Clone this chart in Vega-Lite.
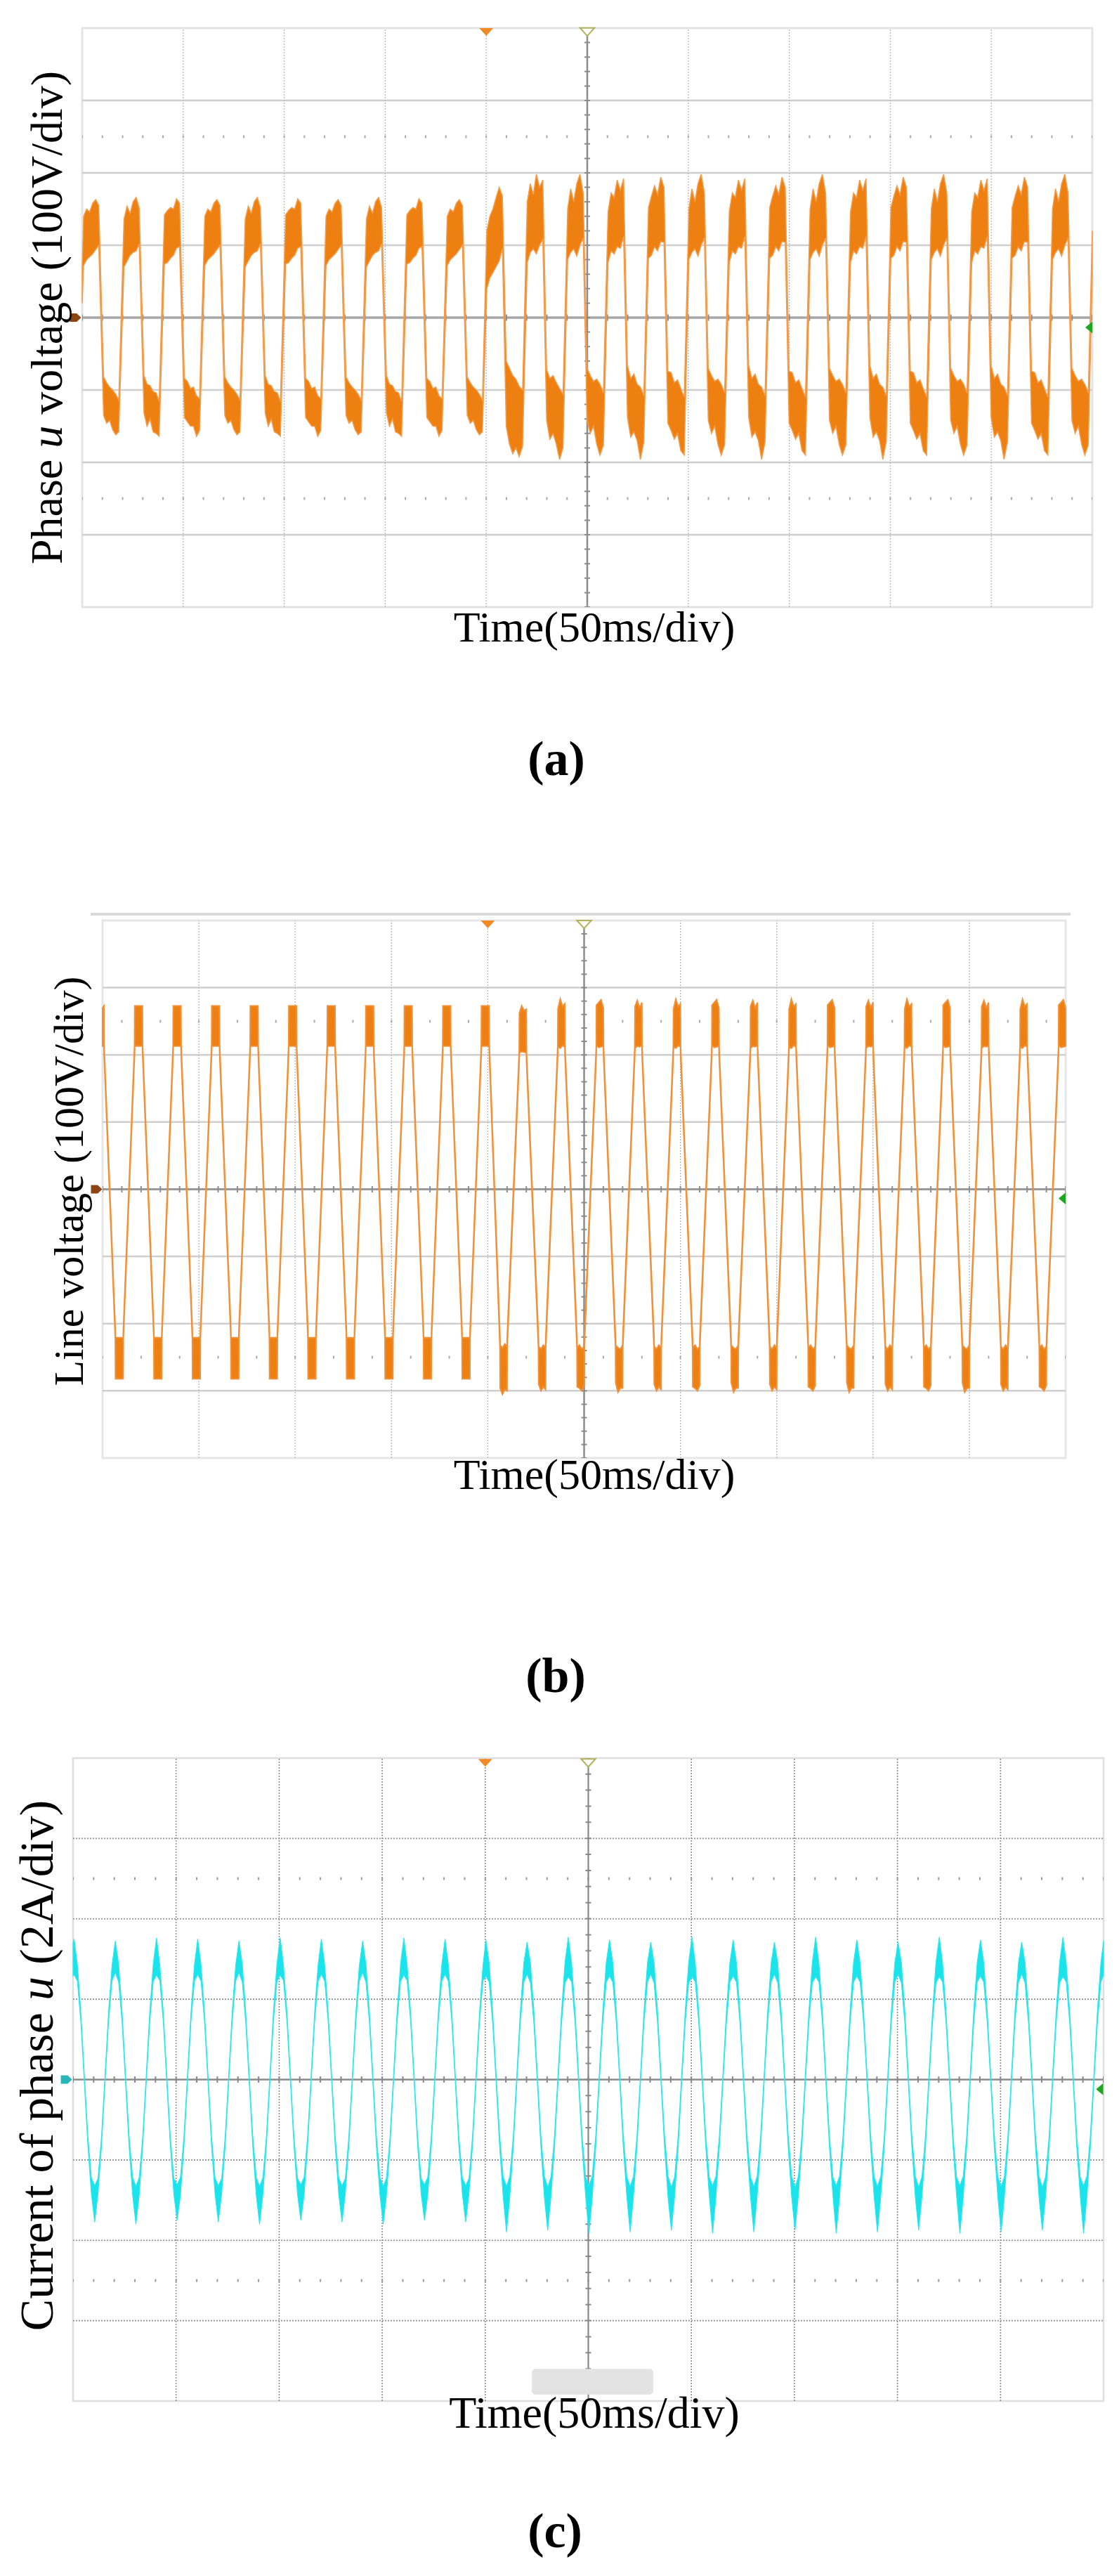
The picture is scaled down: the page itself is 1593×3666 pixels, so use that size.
{
"$schema": "https://vega.github.io/schema/vega-lite/v6.json",
"padding": 0,
"background": "white",
"spacing": 0,
"config": {"view": {"stroke": null}},
"datasets": {
"wa": [
{"t":0,"v":20,"v2":70},
{"t":0.7,"v":72,"v2":140},{"t":2.2,"v":80,"v2":150},{"t":3.7,"v":84,"v2":146},{"t":5.2,"v":88,"v2":158},{"t":6.7,"v":94,"v2":163},{"t":8.2,"v":100,"v2":155},{"t":10.6,"v":-135,"v2":-82},{"t":12.1,"v":-146,"v2":-90},{"t":13.6,"v":-142,"v2":-96},{"t":15.1,"v":-155,"v2":-100},{"t":16.6,"v":-162,"v2":-106},{"t":18.1,"v":-158,"v2":-114},
{"t":20.7,"v":70,"v2":136},{"t":22.2,"v":78,"v2":154},{"t":23.7,"v":86,"v2":144},{"t":25.2,"v":90,"v2":160},{"t":26.7,"v":92,"v2":166},{"t":28.2,"v":102,"v2":152},{"t":30.6,"v":-132,"v2":-80},{"t":32.1,"v":-150,"v2":-92},{"t":33.6,"v":-140,"v2":-94},{"t":35.1,"v":-158,"v2":-102},{"t":36.6,"v":-160,"v2":-104},{"t":38.1,"v":-164,"v2":-116},
{"t":40.7,"v":74,"v2":142},{"t":42.2,"v":76,"v2":148},{"t":43.7,"v":82,"v2":152},{"t":45.2,"v":86,"v2":150},{"t":46.7,"v":96,"v2":164},{"t":48.2,"v":98,"v2":158},{"t":50.6,"v":-138,"v2":-84},{"t":52.1,"v":-144,"v2":-88},{"t":53.6,"v":-150,"v2":-98},{"t":55.1,"v":-150,"v2":-96},{"t":56.6,"v":-164,"v2":-108},{"t":58.1,"v":-156,"v2":-112},
{"t":60.7,"v":72,"v2":140},{"t":62.2,"v":80,"v2":150},{"t":63.7,"v":84,"v2":146},{"t":65.2,"v":88,"v2":158},{"t":66.7,"v":94,"v2":163},{"t":68.2,"v":100,"v2":155},{"t":70.6,"v":-135,"v2":-82},{"t":72.1,"v":-146,"v2":-90},{"t":73.6,"v":-142,"v2":-96},{"t":75.1,"v":-155,"v2":-100},{"t":76.6,"v":-162,"v2":-106},{"t":78.1,"v":-158,"v2":-114},
{"t":80.7,"v":70,"v2":136},{"t":82.2,"v":78,"v2":154},{"t":83.7,"v":86,"v2":144},{"t":85.2,"v":90,"v2":160},{"t":86.7,"v":92,"v2":166},{"t":88.2,"v":102,"v2":152},{"t":90.6,"v":-132,"v2":-80},{"t":92.1,"v":-150,"v2":-92},{"t":93.6,"v":-140,"v2":-94},{"t":95.1,"v":-158,"v2":-102},{"t":96.6,"v":-160,"v2":-104},{"t":98.1,"v":-164,"v2":-116},
{"t":100.7,"v":74,"v2":142},{"t":102.2,"v":76,"v2":148},{"t":103.7,"v":82,"v2":152},{"t":105.2,"v":86,"v2":150},{"t":106.7,"v":96,"v2":164},{"t":108.2,"v":98,"v2":158},{"t":110.6,"v":-138,"v2":-84},{"t":112.1,"v":-144,"v2":-88},{"t":113.6,"v":-150,"v2":-98},{"t":115.1,"v":-150,"v2":-96},{"t":116.6,"v":-164,"v2":-108},{"t":118.1,"v":-156,"v2":-112},
{"t":120.7,"v":72,"v2":140},{"t":122.2,"v":80,"v2":150},{"t":123.7,"v":84,"v2":146},{"t":125.2,"v":88,"v2":158},{"t":126.7,"v":94,"v2":163},{"t":128.2,"v":100,"v2":155},{"t":130.6,"v":-135,"v2":-82},{"t":132.1,"v":-146,"v2":-90},{"t":133.6,"v":-142,"v2":-96},{"t":135.1,"v":-155,"v2":-100},{"t":136.6,"v":-162,"v2":-106},{"t":138.1,"v":-158,"v2":-114},
{"t":140.7,"v":70,"v2":136},{"t":142.2,"v":78,"v2":154},{"t":143.7,"v":86,"v2":144},{"t":145.2,"v":90,"v2":160},{"t":146.7,"v":92,"v2":166},{"t":148.2,"v":102,"v2":152},{"t":150.6,"v":-132,"v2":-80},{"t":152.1,"v":-150,"v2":-92},{"t":153.6,"v":-140,"v2":-94},{"t":155.1,"v":-158,"v2":-102},{"t":156.6,"v":-160,"v2":-104},{"t":158.1,"v":-164,"v2":-116},
{"t":160.7,"v":74,"v2":142},{"t":162.2,"v":76,"v2":148},{"t":163.7,"v":82,"v2":152},{"t":165.2,"v":86,"v2":150},{"t":166.7,"v":96,"v2":164},{"t":168.2,"v":98,"v2":158},{"t":170.6,"v":-138,"v2":-84},{"t":172.1,"v":-144,"v2":-88},{"t":173.6,"v":-150,"v2":-98},{"t":175.1,"v":-150,"v2":-96},{"t":176.6,"v":-164,"v2":-108},{"t":178.1,"v":-156,"v2":-112},
{"t":180.7,"v":72,"v2":140},{"t":182.2,"v":80,"v2":150},{"t":183.7,"v":84,"v2":146},{"t":185.2,"v":88,"v2":158},{"t":186.7,"v":94,"v2":163},{"t":188.2,"v":100,"v2":155},{"t":190.6,"v":-135,"v2":-82},{"t":192.1,"v":-146,"v2":-90},{"t":193.6,"v":-142,"v2":-96},{"t":195.1,"v":-155,"v2":-100},{"t":196.6,"v":-162,"v2":-106},{"t":198.1,"v":-158,"v2":-114},
{"t":200.3,"v":40,"v2":120},{"t":201.8,"v":55,"v2":140},{"t":203.3,"v":62,"v2":150},{"t":204.8,"v":70,"v2":165},{"t":206.4,"v":78,"v2":180},{"t":208,"v":95,"v2":168},{"t":209.9,"v":-150,"v2":-60},{"t":211.5,"v":-175,"v2":-70},{"t":213.1,"v":-188,"v2":-80},{"t":214.7,"v":-180,"v2":-85},{"t":216.3,"v":-192,"v2":-95},{"t":218,"v":-178,"v2":-100},
{"t":220.3,"v":76,"v2":160},{"t":221.8,"v":90,"v2":185},{"t":223.3,"v":95,"v2":170},{"t":224.8,"v":88,"v2":198},{"t":226.4,"v":100,"v2":180},{"t":228,"v":108,"v2":190},{"t":229.9,"v":-142,"v2":-72},{"t":231.5,"v":-168,"v2":-84},{"t":233.1,"v":-160,"v2":-80},{"t":234.7,"v":-175,"v2":-90},{"t":236.3,"v":-196,"v2":-98},{"t":238,"v":-180,"v2":-106},
{"t":240.3,"v":80,"v2":150},{"t":241.8,"v":90,"v2":178},{"t":243.3,"v":95,"v2":160},{"t":244.8,"v":85,"v2":185},{"t":246.4,"v":100,"v2":198},{"t":248,"v":110,"v2":172},{"t":249.9,"v":-142,"v2":-70},{"t":251.5,"v":-160,"v2":-80},{"t":253.1,"v":-150,"v2":-88},{"t":254.7,"v":-175,"v2":-85},{"t":256.3,"v":-190,"v2":-92},{"t":258,"v":-176,"v2":-104},
{"t":260.3,"v":76,"v2":146},{"t":261.8,"v":92,"v2":172},{"t":263.3,"v":88,"v2":166},{"t":264.8,"v":98,"v2":190},{"t":266.4,"v":96,"v2":176},{"t":268,"v":112,"v2":192},{"t":269.9,"v":-138,"v2":-66},{"t":271.5,"v":-165,"v2":-84},{"t":273.1,"v":-158,"v2":-78},{"t":274.7,"v":-170,"v2":-92},{"t":276.3,"v":-196,"v2":-96},{"t":278,"v":-172,"v2":-108},
{"t":280.3,"v":82,"v2":152},{"t":281.8,"v":86,"v2":168},{"t":283.3,"v":98,"v2":182},{"t":284.8,"v":92,"v2":170},{"t":286.4,"v":105,"v2":194},{"t":288,"v":104,"v2":180},{"t":289.9,"v":-146,"v2":-74},{"t":291.5,"v":-156,"v2":-76},{"t":293.1,"v":-168,"v2":-90},{"t":294.7,"v":-160,"v2":-86},{"t":296.3,"v":-184,"v2":-98},{"t":298,"v":-190,"v2":-110},
{"t":300.3,"v":80,"v2":150},{"t":301.8,"v":90,"v2":178},{"t":303.3,"v":95,"v2":160},{"t":304.8,"v":85,"v2":185},{"t":306.4,"v":100,"v2":198},{"t":308,"v":110,"v2":172},{"t":309.9,"v":-142,"v2":-70},{"t":311.5,"v":-160,"v2":-80},{"t":313.1,"v":-150,"v2":-88},{"t":314.7,"v":-175,"v2":-85},{"t":316.3,"v":-190,"v2":-92},{"t":318,"v":-176,"v2":-104},
{"t":320.3,"v":76,"v2":146},{"t":321.8,"v":92,"v2":172},{"t":323.3,"v":88,"v2":166},{"t":324.8,"v":98,"v2":190},{"t":326.4,"v":96,"v2":176},{"t":328,"v":112,"v2":192},{"t":329.9,"v":-138,"v2":-66},{"t":331.5,"v":-165,"v2":-84},{"t":333.1,"v":-158,"v2":-78},{"t":334.7,"v":-170,"v2":-92},{"t":336.3,"v":-196,"v2":-96},{"t":338,"v":-172,"v2":-108},
{"t":340.3,"v":82,"v2":152},{"t":341.8,"v":86,"v2":168},{"t":343.3,"v":98,"v2":182},{"t":344.8,"v":92,"v2":170},{"t":346.4,"v":105,"v2":194},{"t":348,"v":104,"v2":180},{"t":349.9,"v":-146,"v2":-74},{"t":351.5,"v":-156,"v2":-76},{"t":353.1,"v":-168,"v2":-90},{"t":354.7,"v":-160,"v2":-86},{"t":356.3,"v":-184,"v2":-98},{"t":358,"v":-190,"v2":-110},
{"t":360.3,"v":80,"v2":150},{"t":361.8,"v":90,"v2":178},{"t":363.3,"v":95,"v2":160},{"t":364.8,"v":85,"v2":185},{"t":366.4,"v":100,"v2":198},{"t":368,"v":110,"v2":172},{"t":369.9,"v":-142,"v2":-70},{"t":371.5,"v":-160,"v2":-80},{"t":373.1,"v":-150,"v2":-88},{"t":374.7,"v":-175,"v2":-85},{"t":376.3,"v":-190,"v2":-92},{"t":378,"v":-176,"v2":-104},
{"t":380.3,"v":76,"v2":146},{"t":381.8,"v":92,"v2":172},{"t":383.3,"v":88,"v2":166},{"t":384.8,"v":98,"v2":190},{"t":386.4,"v":96,"v2":176},{"t":388,"v":112,"v2":192},{"t":389.9,"v":-138,"v2":-66},{"t":391.5,"v":-165,"v2":-84},{"t":393.1,"v":-158,"v2":-78},{"t":394.7,"v":-170,"v2":-92},{"t":396.3,"v":-196,"v2":-96},{"t":398,"v":-172,"v2":-108},
{"t":400.3,"v":82,"v2":152},{"t":401.8,"v":86,"v2":168},{"t":403.3,"v":98,"v2":182},{"t":404.8,"v":92,"v2":170},{"t":406.4,"v":105,"v2":194},{"t":408,"v":104,"v2":180},{"t":409.9,"v":-146,"v2":-74},{"t":411.5,"v":-156,"v2":-76},{"t":413.1,"v":-168,"v2":-90},{"t":414.7,"v":-160,"v2":-86},{"t":416.3,"v":-184,"v2":-98},{"t":418,"v":-190,"v2":-110},
{"t":420.3,"v":80,"v2":150},{"t":421.8,"v":90,"v2":178},{"t":423.3,"v":95,"v2":160},{"t":424.8,"v":85,"v2":185},{"t":426.4,"v":100,"v2":198},{"t":428,"v":110,"v2":172},{"t":429.9,"v":-142,"v2":-70},{"t":431.5,"v":-160,"v2":-80},{"t":433.1,"v":-150,"v2":-88},{"t":434.7,"v":-175,"v2":-85},{"t":436.3,"v":-190,"v2":-92},{"t":438,"v":-176,"v2":-104},
{"t":440.3,"v":76,"v2":146},{"t":441.8,"v":92,"v2":172},{"t":443.3,"v":88,"v2":166},{"t":444.8,"v":98,"v2":190},{"t":446.4,"v":96,"v2":176},{"t":448,"v":112,"v2":192},{"t":449.9,"v":-138,"v2":-66},{"t":451.5,"v":-165,"v2":-84},{"t":453.1,"v":-158,"v2":-78},{"t":454.7,"v":-170,"v2":-92},{"t":456.3,"v":-196,"v2":-96},{"t":458,"v":-172,"v2":-108},
{"t":460.3,"v":82,"v2":152},{"t":461.8,"v":86,"v2":168},{"t":463.3,"v":98,"v2":182},{"t":464.8,"v":92,"v2":170},{"t":466.4,"v":105,"v2":194},{"t":468,"v":104,"v2":180},{"t":469.9,"v":-146,"v2":-74},{"t":471.5,"v":-156,"v2":-76},{"t":473.1,"v":-168,"v2":-90},{"t":474.7,"v":-160,"v2":-86},{"t":476.3,"v":-184,"v2":-98},{"t":478,"v":-190,"v2":-110},
{"t":480.3,"v":80,"v2":150},{"t":481.8,"v":90,"v2":178},{"t":483.3,"v":95,"v2":160},{"t":484.8,"v":85,"v2":185},{"t":486.4,"v":100,"v2":198},{"t":488,"v":110,"v2":172},{"t":489.9,"v":-142,"v2":-70},{"t":491.5,"v":-160,"v2":-80},{"t":493.1,"v":-150,"v2":-88},{"t":494.7,"v":-175,"v2":-85},{"t":496.3,"v":-190,"v2":-92},{"t":498,"v":-176,"v2":-104},
{"t":500,"v":60,"v2":120}
],
"wb": [
{"t":0,"v":213,"v2":270},
{"t":0.7,"v":213,"v2":273},{"t":0.8,"v":200,"v2":214},{"t":6.6,"v":-222,"v2":-208},{"t":6.7,"v":-282,"v2":-221},{"t":10.7,"v":-282,"v2":-221},{"t":10.8,"v":-222,"v2":-208},{"t":16.6,"v":200,"v2":214},{"t":16.7,"v":213,"v2":273},
{"t":20.7,"v":213,"v2":273},{"t":20.8,"v":200,"v2":214},{"t":26.6,"v":-222,"v2":-208},{"t":26.7,"v":-282,"v2":-221},{"t":30.7,"v":-282,"v2":-221},{"t":30.8,"v":-222,"v2":-208},{"t":36.6,"v":200,"v2":214},{"t":36.7,"v":213,"v2":273},
{"t":40.7,"v":213,"v2":273},{"t":40.8,"v":200,"v2":214},{"t":46.6,"v":-222,"v2":-208},{"t":46.7,"v":-282,"v2":-221},{"t":50.7,"v":-282,"v2":-221},{"t":50.8,"v":-222,"v2":-208},{"t":56.6,"v":200,"v2":214},{"t":56.7,"v":213,"v2":273},
{"t":60.7,"v":213,"v2":273},{"t":60.8,"v":200,"v2":214},{"t":66.6,"v":-222,"v2":-208},{"t":66.7,"v":-282,"v2":-221},{"t":70.7,"v":-282,"v2":-221},{"t":70.8,"v":-222,"v2":-208},{"t":76.6,"v":200,"v2":214},{"t":76.7,"v":213,"v2":273},
{"t":80.7,"v":213,"v2":273},{"t":80.8,"v":200,"v2":214},{"t":86.6,"v":-222,"v2":-208},{"t":86.7,"v":-282,"v2":-221},{"t":90.7,"v":-282,"v2":-221},{"t":90.8,"v":-222,"v2":-208},{"t":96.6,"v":200,"v2":214},{"t":96.7,"v":213,"v2":273},
{"t":100.7,"v":213,"v2":273},{"t":100.8,"v":200,"v2":214},{"t":106.6,"v":-222,"v2":-208},{"t":106.7,"v":-282,"v2":-221},{"t":110.7,"v":-282,"v2":-221},{"t":110.8,"v":-222,"v2":-208},{"t":116.6,"v":200,"v2":214},{"t":116.7,"v":213,"v2":273},
{"t":120.7,"v":213,"v2":273},{"t":120.8,"v":200,"v2":214},{"t":126.6,"v":-222,"v2":-208},{"t":126.7,"v":-282,"v2":-221},{"t":130.7,"v":-282,"v2":-221},{"t":130.8,"v":-222,"v2":-208},{"t":136.6,"v":200,"v2":214},{"t":136.7,"v":213,"v2":273},
{"t":140.7,"v":213,"v2":273},{"t":140.8,"v":200,"v2":214},{"t":146.6,"v":-222,"v2":-208},{"t":146.7,"v":-282,"v2":-221},{"t":150.7,"v":-282,"v2":-221},{"t":150.8,"v":-222,"v2":-208},{"t":156.6,"v":200,"v2":214},{"t":156.7,"v":213,"v2":273},
{"t":160.7,"v":213,"v2":273},{"t":160.8,"v":200,"v2":214},{"t":166.6,"v":-222,"v2":-208},{"t":166.7,"v":-282,"v2":-221},{"t":170.7,"v":-282,"v2":-221},{"t":170.8,"v":-222,"v2":-208},{"t":176.6,"v":200,"v2":214},{"t":176.7,"v":213,"v2":273},
{"t":180.7,"v":213,"v2":273},{"t":180.8,"v":200,"v2":214},{"t":186.6,"v":-222,"v2":-208},{"t":186.7,"v":-282,"v2":-221},{"t":190.7,"v":-282,"v2":-221},{"t":190.8,"v":-222,"v2":-208},{"t":196.6,"v":200,"v2":214},{"t":196.7,"v":213,"v2":273},
{"t":200.7,"v":213,"v2":273},{"t":200.8,"v":200,"v2":214},
{"t":206.3,"v":-234,"v2":-218},{"t":206.4,"v":-296,"v2":-232},{"t":207.6,"v":-305,"v2":-236},{"t":208.8,"v":-298,"v2":-230},{"t":210,"v":-300,"v2":-234},{"t":210.1,"v":-234,"v2":-218},{"t":216.3,"v":190,"v2":204},{"t":216.4,"v":203,"v2":262},{"t":217.6,"v":205,"v2":273},{"t":218.8,"v":204,"v2":266},{"t":220,"v":203,"v2":268},{"t":220.1,"v":190,"v2":204},
{"t":226.3,"v":-236,"v2":-220},{"t":226.4,"v":-290,"v2":-234},{"t":227.6,"v":-300,"v2":-238},{"t":228.8,"v":-294,"v2":-232},{"t":230,"v":-298,"v2":-236},{"t":230.1,"v":-236,"v2":-220},{"t":236.3,"v":198,"v2":212},{"t":236.4,"v":212,"v2":268},{"t":237.6,"v":210,"v2":283},{"t":238.8,"v":214,"v2":272},{"t":240,"v":212,"v2":276},{"t":240.1,"v":198,"v2":212},
{"t":246.3,"v":-236,"v2":-220},{"t":246.4,"v":-294,"v2":-236},{"t":247.6,"v":-296,"v2":-232},{"t":248.8,"v":-300,"v2":-238},{"t":250,"v":-292,"v2":-234},{"t":250.1,"v":-236,"v2":-220},{"t":256.3,"v":198,"v2":212},{"t":256.4,"v":214,"v2":274},{"t":257.6,"v":211,"v2":278},{"t":258.8,"v":212,"v2":282},{"t":260,"v":213,"v2":270},{"t":260.1,"v":198,"v2":212},
{"t":266.3,"v":-236,"v2":-220},{"t":266.4,"v":-288,"v2":-232},{"t":267.6,"v":-302,"v2":-236},{"t":268.8,"v":-296,"v2":-238},{"t":270,"v":-296,"v2":-232},{"t":270.1,"v":-236,"v2":-220},{"t":276.3,"v":198,"v2":212},{"t":276.4,"v":210,"v2":272},{"t":277.6,"v":213,"v2":281},{"t":278.8,"v":212,"v2":270},{"t":280,"v":214,"v2":278},{"t":280.1,"v":198,"v2":212},
{"t":286.3,"v":-236,"v2":-220},{"t":286.4,"v":-290,"v2":-234},{"t":287.6,"v":-300,"v2":-238},{"t":288.8,"v":-294,"v2":-232},{"t":290,"v":-298,"v2":-236},{"t":290.1,"v":-236,"v2":-220},{"t":296.3,"v":198,"v2":212},{"t":296.4,"v":212,"v2":268},{"t":297.6,"v":210,"v2":283},{"t":298.8,"v":214,"v2":272},{"t":300,"v":212,"v2":276},{"t":300.1,"v":198,"v2":212},
{"t":306.3,"v":-236,"v2":-220},{"t":306.4,"v":-294,"v2":-236},{"t":307.6,"v":-296,"v2":-232},{"t":308.8,"v":-300,"v2":-238},{"t":310,"v":-292,"v2":-234},{"t":310.1,"v":-236,"v2":-220},{"t":316.3,"v":198,"v2":212},{"t":316.4,"v":214,"v2":274},{"t":317.6,"v":211,"v2":278},{"t":318.8,"v":212,"v2":282},{"t":320,"v":213,"v2":270},{"t":320.1,"v":198,"v2":212},
{"t":326.3,"v":-236,"v2":-220},{"t":326.4,"v":-288,"v2":-232},{"t":327.6,"v":-302,"v2":-236},{"t":328.8,"v":-296,"v2":-238},{"t":330,"v":-296,"v2":-232},{"t":330.1,"v":-236,"v2":-220},{"t":336.3,"v":198,"v2":212},{"t":336.4,"v":210,"v2":272},{"t":337.6,"v":213,"v2":281},{"t":338.8,"v":212,"v2":270},{"t":340,"v":214,"v2":278},{"t":340.1,"v":198,"v2":212},
{"t":346.3,"v":-236,"v2":-220},{"t":346.4,"v":-290,"v2":-234},{"t":347.6,"v":-300,"v2":-238},{"t":348.8,"v":-294,"v2":-232},{"t":350,"v":-298,"v2":-236},{"t":350.1,"v":-236,"v2":-220},{"t":356.3,"v":198,"v2":212},{"t":356.4,"v":212,"v2":268},{"t":357.6,"v":210,"v2":283},{"t":358.8,"v":214,"v2":272},{"t":360,"v":212,"v2":276},{"t":360.1,"v":198,"v2":212},
{"t":366.3,"v":-236,"v2":-220},{"t":366.4,"v":-294,"v2":-236},{"t":367.6,"v":-296,"v2":-232},{"t":368.8,"v":-300,"v2":-238},{"t":370,"v":-292,"v2":-234},{"t":370.1,"v":-236,"v2":-220},{"t":376.3,"v":198,"v2":212},{"t":376.4,"v":214,"v2":274},{"t":377.6,"v":211,"v2":278},{"t":378.8,"v":212,"v2":282},{"t":380,"v":213,"v2":270},{"t":380.1,"v":198,"v2":212},
{"t":386.3,"v":-236,"v2":-220},{"t":386.4,"v":-288,"v2":-232},{"t":387.6,"v":-302,"v2":-236},{"t":388.8,"v":-296,"v2":-238},{"t":390,"v":-296,"v2":-232},{"t":390.1,"v":-236,"v2":-220},{"t":396.3,"v":198,"v2":212},{"t":396.4,"v":210,"v2":272},{"t":397.6,"v":213,"v2":281},{"t":398.8,"v":212,"v2":270},{"t":400,"v":214,"v2":278},{"t":400.1,"v":198,"v2":212},
{"t":406.3,"v":-236,"v2":-220},{"t":406.4,"v":-290,"v2":-234},{"t":407.6,"v":-300,"v2":-238},{"t":408.8,"v":-294,"v2":-232},{"t":410,"v":-298,"v2":-236},{"t":410.1,"v":-236,"v2":-220},{"t":416.3,"v":198,"v2":212},{"t":416.4,"v":212,"v2":268},{"t":417.6,"v":210,"v2":283},{"t":418.8,"v":214,"v2":272},{"t":420,"v":212,"v2":276},{"t":420.1,"v":198,"v2":212},
{"t":426.3,"v":-236,"v2":-220},{"t":426.4,"v":-294,"v2":-236},{"t":427.6,"v":-296,"v2":-232},{"t":428.8,"v":-300,"v2":-238},{"t":430,"v":-292,"v2":-234},{"t":430.1,"v":-236,"v2":-220},{"t":436.3,"v":198,"v2":212},{"t":436.4,"v":214,"v2":274},{"t":437.6,"v":211,"v2":278},{"t":438.8,"v":212,"v2":282},{"t":440,"v":213,"v2":270},{"t":440.1,"v":198,"v2":212},
{"t":446.3,"v":-236,"v2":-220},{"t":446.4,"v":-288,"v2":-232},{"t":447.6,"v":-302,"v2":-236},{"t":448.8,"v":-296,"v2":-238},{"t":450,"v":-296,"v2":-232},{"t":450.1,"v":-236,"v2":-220},{"t":456.3,"v":198,"v2":212},{"t":456.4,"v":210,"v2":272},{"t":457.6,"v":213,"v2":281},{"t":458.8,"v":212,"v2":270},{"t":460,"v":214,"v2":278},{"t":460.1,"v":198,"v2":212},
{"t":466.3,"v":-236,"v2":-220},{"t":466.4,"v":-290,"v2":-234},{"t":467.6,"v":-300,"v2":-238},{"t":468.8,"v":-294,"v2":-232},{"t":470,"v":-298,"v2":-236},{"t":470.1,"v":-236,"v2":-220},{"t":476.3,"v":198,"v2":212},{"t":476.4,"v":212,"v2":268},{"t":477.6,"v":210,"v2":283},{"t":478.8,"v":214,"v2":272},{"t":480,"v":212,"v2":276},{"t":480.1,"v":198,"v2":212},
{"t":486.3,"v":-236,"v2":-220},{"t":486.4,"v":-294,"v2":-236},{"t":487.6,"v":-296,"v2":-232},{"t":488.8,"v":-300,"v2":-238},{"t":490,"v":-292,"v2":-234},{"t":490.1,"v":-236,"v2":-220},{"t":496.3,"v":198,"v2":212},{"t":496.4,"v":214,"v2":274},{"t":497.6,"v":211,"v2":278},{"t":498.8,"v":212,"v2":282},{"t":500,"v":213,"v2":270}
],
"wc": [
{"t":0,"v":2.58,"v2":3.4},
{"t":0.5,"v":2.62,"v2":3.5},{"t":2.1,"v":2.45,"v2":2.86},{"t":3.8,"v":1.42,"v2":1.66},{"t":5.5,"v":-0.1,"v2":0.1},{"t":7.2,"v":-1.66,"v2":-1.42},{"t":8.9,"v":-2.86,"v2":-2.45},{"t":10.5,"v":-3.55,"v2":-2.64},{"t":12.1,"v":-2.84,"v2":-2.46},{"t":13.8,"v":-1.66,"v2":-1.42},{"t":15.5,"v":-0.1,"v2":0.1},{"t":17.2,"v":1.42,"v2":1.66},{"t":18.9,"v":2.46,"v2":2.84},
{"t":20.5,"v":2.66,"v2":3.45},{"t":22.1,"v":2.43,"v2":2.88},{"t":23.8,"v":1.41,"v2":1.67},{"t":25.5,"v":-0.11,"v2":0.09},{"t":27.2,"v":-1.67,"v2":-1.41},{"t":28.9,"v":-2.88,"v2":-2.43},{"t":30.5,"v":-3.6,"v2":-2.66},{"t":32.1,"v":-2.87,"v2":-2.44},{"t":33.8,"v":-1.65,"v2":-1.42},{"t":35.5,"v":-0.09,"v2":0.11},{"t":37.2,"v":1.42,"v2":1.67},{"t":38.9,"v":2.44,"v2":2.87},
{"t":40.5,"v":2.6,"v2":3.53},{"t":42.1,"v":2.46,"v2":2.85},{"t":43.8,"v":1.43,"v2":1.65},{"t":45.5,"v":-0.1,"v2":0.1},{"t":47.2,"v":-1.65,"v2":-1.43},{"t":48.9,"v":-2.85,"v2":-2.46},{"t":50.5,"v":-3.5,"v2":-2.62},{"t":52.1,"v":-2.88,"v2":-2.43},{"t":53.8,"v":-1.67,"v2":-1.42},{"t":55.5,"v":-0.1,"v2":0.1},{"t":57.2,"v":1.43,"v2":1.66},{"t":58.9,"v":2.45,"v2":2.86},
{"t":60.5,"v":2.62,"v2":3.5},{"t":62.1,"v":2.45,"v2":2.86},{"t":63.8,"v":1.42,"v2":1.66},{"t":65.5,"v":-0.1,"v2":0.1},{"t":67.2,"v":-1.66,"v2":-1.42},{"t":68.9,"v":-2.86,"v2":-2.45},{"t":70.5,"v":-3.55,"v2":-2.64},{"t":72.1,"v":-2.84,"v2":-2.46},{"t":73.8,"v":-1.66,"v2":-1.42},{"t":75.5,"v":-0.1,"v2":0.1},{"t":77.2,"v":1.42,"v2":1.66},{"t":78.9,"v":2.46,"v2":2.84},
{"t":80.5,"v":2.66,"v2":3.45},{"t":82.1,"v":2.43,"v2":2.88},{"t":83.8,"v":1.41,"v2":1.67},{"t":85.5,"v":-0.11,"v2":0.09},{"t":87.2,"v":-1.67,"v2":-1.41},{"t":88.9,"v":-2.88,"v2":-2.43},{"t":90.5,"v":-3.6,"v2":-2.66},{"t":92.1,"v":-2.87,"v2":-2.44},{"t":93.8,"v":-1.65,"v2":-1.42},{"t":95.5,"v":-0.09,"v2":0.11},{"t":97.2,"v":1.42,"v2":1.67},{"t":98.9,"v":2.44,"v2":2.87},
{"t":100.5,"v":2.6,"v2":3.53},{"t":102.1,"v":2.46,"v2":2.85},{"t":103.8,"v":1.43,"v2":1.65},{"t":105.5,"v":-0.1,"v2":0.1},{"t":107.2,"v":-1.65,"v2":-1.43},{"t":108.9,"v":-2.85,"v2":-2.46},{"t":110.5,"v":-3.5,"v2":-2.62},{"t":112.1,"v":-2.88,"v2":-2.43},{"t":113.8,"v":-1.67,"v2":-1.42},{"t":115.5,"v":-0.1,"v2":0.1},{"t":117.2,"v":1.43,"v2":1.66},{"t":118.9,"v":2.45,"v2":2.86},
{"t":120.5,"v":2.62,"v2":3.5},{"t":122.1,"v":2.45,"v2":2.86},{"t":123.8,"v":1.42,"v2":1.66},{"t":125.5,"v":-0.1,"v2":0.1},{"t":127.2,"v":-1.66,"v2":-1.42},{"t":128.9,"v":-2.86,"v2":-2.45},{"t":130.5,"v":-3.55,"v2":-2.64},{"t":132.1,"v":-2.84,"v2":-2.46},{"t":133.8,"v":-1.66,"v2":-1.42},{"t":135.5,"v":-0.1,"v2":0.1},{"t":137.2,"v":1.42,"v2":1.66},{"t":138.9,"v":2.46,"v2":2.84},
{"t":140.5,"v":2.66,"v2":3.45},{"t":142.1,"v":2.43,"v2":2.88},{"t":143.8,"v":1.41,"v2":1.67},{"t":145.5,"v":-0.11,"v2":0.09},{"t":147.2,"v":-1.67,"v2":-1.41},{"t":148.9,"v":-2.88,"v2":-2.43},{"t":150.5,"v":-3.6,"v2":-2.66},{"t":152.1,"v":-2.87,"v2":-2.44},{"t":153.8,"v":-1.65,"v2":-1.42},{"t":155.5,"v":-0.09,"v2":0.11},{"t":157.2,"v":1.42,"v2":1.67},{"t":158.9,"v":2.44,"v2":2.87},
{"t":160.5,"v":2.6,"v2":3.53},{"t":162.1,"v":2.46,"v2":2.85},{"t":163.8,"v":1.43,"v2":1.65},{"t":165.5,"v":-0.1,"v2":0.1},{"t":167.2,"v":-1.65,"v2":-1.43},{"t":168.9,"v":-2.85,"v2":-2.46},{"t":170.5,"v":-3.5,"v2":-2.62},{"t":172.1,"v":-2.88,"v2":-2.43},{"t":173.8,"v":-1.67,"v2":-1.42},{"t":175.5,"v":-0.1,"v2":0.1},{"t":177.2,"v":1.43,"v2":1.66},{"t":178.9,"v":2.45,"v2":2.86},
{"t":180.5,"v":2.62,"v2":3.5},{"t":182.1,"v":2.45,"v2":2.86},{"t":183.8,"v":1.42,"v2":1.66},{"t":185.5,"v":-0.1,"v2":0.1},{"t":187.2,"v":-1.66,"v2":-1.42},{"t":188.9,"v":-2.86,"v2":-2.45},{"t":190.5,"v":-3.55,"v2":-2.64},{"t":192.1,"v":-2.84,"v2":-2.46},{"t":193.8,"v":-1.66,"v2":-1.42},{"t":195.5,"v":-0.1,"v2":0.1},{"t":197.2,"v":1.42,"v2":1.66},{"t":198.9,"v":2.46,"v2":2.84},
{"t":200.3,"v":2.58,"v2":3.48},{"t":201.9,"v":2.42,"v2":2.9},{"t":203.6,"v":1.4,"v2":1.68},{"t":205.3,"v":-0.11,"v2":0.11},{"t":207,"v":-1.7,"v2":-1.4},{"t":208.7,"v":-2.92,"v2":-2.42},{"t":210.3,"v":-3.8,"v2":-2.66},{"t":211.9,"v":-2.92,"v2":-2.41},{"t":213.6,"v":-1.68,"v2":-1.41},{"t":215.3,"v":-0.11,"v2":0.11},{"t":217,"v":1.41,"v2":1.68},{"t":218.7,"v":2.42,"v2":2.9},
{"t":220.3,"v":2.62,"v2":3.42},{"t":221.9,"v":2.41,"v2":2.92},{"t":223.6,"v":1.39,"v2":1.69},{"t":225.3,"v":-0.11,"v2":0.11},{"t":227,"v":-1.69,"v2":-1.39},{"t":228.7,"v":-2.94,"v2":-2.41},{"t":230.3,"v":-3.75,"v2":-2.68},{"t":231.9,"v":-2.9,"v2":-2.42},{"t":233.6,"v":-1.69,"v2":-1.4},{"t":235.3,"v":-0.1,"v2":0.12},{"t":237,"v":1.4,"v2":1.68},{"t":238.7,"v":2.41,"v2":2.92},
{"t":240.3,"v":2.56,"v2":3.55},{"t":241.9,"v":2.43,"v2":2.9},{"t":243.6,"v":1.4,"v2":1.68},{"t":245.3,"v":-0.11,"v2":0.11},{"t":247,"v":-1.68,"v2":-1.4},{"t":248.7,"v":-2.9,"v2":-2.43},{"t":250.3,"v":-3.83,"v2":-2.64},{"t":251.9,"v":-2.94,"v2":-2.41},{"t":253.6,"v":-1.68,"v2":-1.39},{"t":255.3,"v":-0.11,"v2":0.11},{"t":257,"v":1.39,"v2":1.69},{"t":258.7,"v":2.42,"v2":2.91},
{"t":260.3,"v":2.58,"v2":3.48},{"t":261.9,"v":2.42,"v2":2.9},{"t":263.6,"v":1.4,"v2":1.68},{"t":265.3,"v":-0.11,"v2":0.11},{"t":267,"v":-1.7,"v2":-1.4},{"t":268.7,"v":-2.92,"v2":-2.42},{"t":270.3,"v":-3.8,"v2":-2.66},{"t":271.9,"v":-2.92,"v2":-2.41},{"t":273.6,"v":-1.68,"v2":-1.41},{"t":275.3,"v":-0.11,"v2":0.11},{"t":277,"v":1.41,"v2":1.68},{"t":278.7,"v":2.42,"v2":2.9},
{"t":280.3,"v":2.62,"v2":3.42},{"t":281.9,"v":2.41,"v2":2.92},{"t":283.6,"v":1.39,"v2":1.69},{"t":285.3,"v":-0.11,"v2":0.11},{"t":287,"v":-1.69,"v2":-1.39},{"t":288.7,"v":-2.94,"v2":-2.41},{"t":290.3,"v":-3.75,"v2":-2.68},{"t":291.9,"v":-2.9,"v2":-2.42},{"t":293.6,"v":-1.69,"v2":-1.4},{"t":295.3,"v":-0.1,"v2":0.12},{"t":297,"v":1.4,"v2":1.68},{"t":298.7,"v":2.41,"v2":2.92},
{"t":300.3,"v":2.56,"v2":3.55},{"t":301.9,"v":2.43,"v2":2.9},{"t":303.6,"v":1.4,"v2":1.68},{"t":305.3,"v":-0.11,"v2":0.11},{"t":307,"v":-1.68,"v2":-1.4},{"t":308.7,"v":-2.9,"v2":-2.43},{"t":310.3,"v":-3.83,"v2":-2.64},{"t":311.9,"v":-2.94,"v2":-2.41},{"t":313.6,"v":-1.68,"v2":-1.39},{"t":315.3,"v":-0.11,"v2":0.11},{"t":317,"v":1.39,"v2":1.69},{"t":318.7,"v":2.42,"v2":2.91},
{"t":320.3,"v":2.58,"v2":3.48},{"t":321.9,"v":2.42,"v2":2.9},{"t":323.6,"v":1.4,"v2":1.68},{"t":325.3,"v":-0.11,"v2":0.11},{"t":327,"v":-1.7,"v2":-1.4},{"t":328.7,"v":-2.92,"v2":-2.42},{"t":330.3,"v":-3.8,"v2":-2.66},{"t":331.9,"v":-2.92,"v2":-2.41},{"t":333.6,"v":-1.68,"v2":-1.41},{"t":335.3,"v":-0.11,"v2":0.11},{"t":337,"v":1.41,"v2":1.68},{"t":338.7,"v":2.42,"v2":2.9},
{"t":340.3,"v":2.62,"v2":3.42},{"t":341.9,"v":2.41,"v2":2.92},{"t":343.6,"v":1.39,"v2":1.69},{"t":345.3,"v":-0.11,"v2":0.11},{"t":347,"v":-1.69,"v2":-1.39},{"t":348.7,"v":-2.94,"v2":-2.41},{"t":350.3,"v":-3.75,"v2":-2.68},{"t":351.9,"v":-2.9,"v2":-2.42},{"t":353.6,"v":-1.69,"v2":-1.4},{"t":355.3,"v":-0.1,"v2":0.12},{"t":357,"v":1.4,"v2":1.68},{"t":358.7,"v":2.41,"v2":2.92},
{"t":360.3,"v":2.56,"v2":3.55},{"t":361.9,"v":2.43,"v2":2.9},{"t":363.6,"v":1.4,"v2":1.68},{"t":365.3,"v":-0.11,"v2":0.11},{"t":367,"v":-1.68,"v2":-1.4},{"t":368.7,"v":-2.9,"v2":-2.43},{"t":370.3,"v":-3.83,"v2":-2.64},{"t":371.9,"v":-2.94,"v2":-2.41},{"t":373.6,"v":-1.68,"v2":-1.39},{"t":375.3,"v":-0.11,"v2":0.11},{"t":377,"v":1.39,"v2":1.69},{"t":378.7,"v":2.42,"v2":2.91},
{"t":380.3,"v":2.58,"v2":3.48},{"t":381.9,"v":2.42,"v2":2.9},{"t":383.6,"v":1.4,"v2":1.68},{"t":385.3,"v":-0.11,"v2":0.11},{"t":387,"v":-1.7,"v2":-1.4},{"t":388.7,"v":-2.92,"v2":-2.42},{"t":390.3,"v":-3.8,"v2":-2.66},{"t":391.9,"v":-2.92,"v2":-2.41},{"t":393.6,"v":-1.68,"v2":-1.41},{"t":395.3,"v":-0.11,"v2":0.11},{"t":397,"v":1.41,"v2":1.68},{"t":398.7,"v":2.42,"v2":2.9},
{"t":400.3,"v":2.62,"v2":3.42},{"t":401.9,"v":2.41,"v2":2.92},{"t":403.6,"v":1.39,"v2":1.69},{"t":405.3,"v":-0.11,"v2":0.11},{"t":407,"v":-1.69,"v2":-1.39},{"t":408.7,"v":-2.94,"v2":-2.41},{"t":410.3,"v":-3.75,"v2":-2.68},{"t":411.9,"v":-2.9,"v2":-2.42},{"t":413.6,"v":-1.69,"v2":-1.4},{"t":415.3,"v":-0.1,"v2":0.12},{"t":417,"v":1.4,"v2":1.68},{"t":418.7,"v":2.41,"v2":2.92},
{"t":420.3,"v":2.56,"v2":3.55},{"t":421.9,"v":2.43,"v2":2.9},{"t":423.6,"v":1.4,"v2":1.68},{"t":425.3,"v":-0.11,"v2":0.11},{"t":427,"v":-1.68,"v2":-1.4},{"t":428.7,"v":-2.9,"v2":-2.43},{"t":430.3,"v":-3.83,"v2":-2.64},{"t":431.9,"v":-2.94,"v2":-2.41},{"t":433.6,"v":-1.68,"v2":-1.39},{"t":435.3,"v":-0.11,"v2":0.11},{"t":437,"v":1.39,"v2":1.69},{"t":438.7,"v":2.42,"v2":2.91},
{"t":440.3,"v":2.58,"v2":3.48},{"t":441.9,"v":2.42,"v2":2.9},{"t":443.6,"v":1.4,"v2":1.68},{"t":445.3,"v":-0.11,"v2":0.11},{"t":447,"v":-1.7,"v2":-1.4},{"t":448.7,"v":-2.92,"v2":-2.42},{"t":450.3,"v":-3.8,"v2":-2.66},{"t":451.9,"v":-2.92,"v2":-2.41},{"t":453.6,"v":-1.68,"v2":-1.41},{"t":455.3,"v":-0.11,"v2":0.11},{"t":457,"v":1.41,"v2":1.68},{"t":458.7,"v":2.42,"v2":2.9},
{"t":460.3,"v":2.62,"v2":3.42},{"t":461.9,"v":2.41,"v2":2.92},{"t":463.6,"v":1.39,"v2":1.69},{"t":465.3,"v":-0.11,"v2":0.11},{"t":467,"v":-1.69,"v2":-1.39},{"t":468.7,"v":-2.94,"v2":-2.41},{"t":470.3,"v":-3.75,"v2":-2.68},{"t":471.9,"v":-2.9,"v2":-2.42},{"t":473.6,"v":-1.69,"v2":-1.4},{"t":475.3,"v":-0.1,"v2":0.12},{"t":477,"v":1.4,"v2":1.68},{"t":478.7,"v":2.41,"v2":2.92},
{"t":480.3,"v":2.56,"v2":3.55},{"t":481.9,"v":2.43,"v2":2.9},{"t":483.6,"v":1.4,"v2":1.68},{"t":485.3,"v":-0.11,"v2":0.11},{"t":487,"v":-1.68,"v2":-1.4},{"t":488.7,"v":-2.9,"v2":-2.43},{"t":490.3,"v":-3.83,"v2":-2.64},{"t":491.9,"v":-2.94,"v2":-2.41},{"t":493.6,"v":-1.68,"v2":-1.39},{"t":495.3,"v":-0.11,"v2":0.11},{"t":497,"v":1.39,"v2":1.69},{"t":498.7,"v":2.42,"v2":2.91},
{"t":500,"v":2.6,"v2":3.45}
]
},
"vconcat": [
{
"width": 1593, "height": 1220,
"encoding": {
"x": {"field": "t", "type": "quantitative", "scale": {"domain": [-40.68, 513.21], "nice": false, "zero": false}, "axis": null},
"y": {"field": "v", "type": "quantitative", "scale": {"domain": [-745.6, 438.8], "nice": false, "zero": false}, "axis": null}
},
"layer": [
{"data": {"values": [{"t":0,"t2":500,"v":-400,"v2":400}]}, "mark": {"type": "rect", "fill": "transparent", "stroke": "#e4e4e4", "strokeWidth": 3}, "encoding": {"x2": {"field": "t2"}, "y2": {"field": "v2"}}},
{"data": {"values": [{"t":0,"t2":500,"v":300},{"t":0,"t2":500,"v":200},{"t":0,"t2":500,"v":100},{"t":0,"t2":500,"v":-100},{"t":0,"t2":500,"v":-200},{"t":0,"t2":500,"v":-300}]}, "mark": {"type": "rule", "stroke": "#cfcfcf", "strokeWidth": 2.5}, "encoding": {"x2": {"field": "t2"}}},
{"data": {"values": [{"t":50,"v":-400,"v2":400},{"t":100,"v":-400,"v2":400},{"t":150,"v":-400,"v2":400},{"t":200,"v":-400,"v2":400},{"t":300,"v":-400,"v2":400},{"t":350,"v":-400,"v2":400},{"t":400,"v":-400,"v2":400},{"t":450,"v":-400,"v2":400}]}, "mark": {"type": "rule", "stroke": "#b8b8b8", "strokeWidth": 1.3, "strokeDash": [2, 2]}, "encoding": {"y2": {"field": "v2"}}},
{"data": {"values": [{"t":0,"t2":500,"v":250},{"t":0,"t2":500,"v":-250}]}, "mark": {"type": "rule", "stroke": "#a9a9a9", "strokeWidth": 4, "strokeDash": [2, 26.76], "strokeDashOffset": 1}, "encoding": {"x2": {"field": "t2"}}},
{"data": {"values": [{"t":0,"t2":500,"v":0}]}, "mark": {"type": "rule", "stroke": "#a6a6a6", "strokeWidth": 3.5}, "encoding": {"x2": {"field": "t2"}}},
{"data": {"values": [{"t":0,"t2":500,"v":0}]}, "mark": {"type": "rule", "stroke": "#8e8e8e", "strokeWidth": 9, "strokeDash": [2, 26.76], "strokeDashOffset": 1}, "encoding": {"x2": {"field": "t2"}}},
{"data": {"values": [{"t":250,"v":-400,"v2":400}]}, "mark": {"type": "rule", "stroke": "#8c8c8c", "strokeWidth": 2.5}, "encoding": {"y2": {"field": "v2"}}},
{"data": {"values": [{"t":250,"v":-400,"v2":400}]}, "mark": {"type": "rule", "stroke": "#8c8c8c", "strokeWidth": 8, "strokeDash": [2, 18.6], "strokeDashOffset": 1}, "encoding": {"y2": {"field": "v2"}}},
{"data": {"name": "wa"}, "mark": {"type": "area", "fill": "#EE8012", "stroke": "#F29D4E", "strokeWidth": 1.5}, "encoding": {"y2": {"field": "v2"}}},
{"data": {"values": [{"t":200,"v":394.7}]}, "mark": {"type": "point", "shape": "M-1,-0.55L1,-0.55L0,0.55Z", "size": 400, "filled": true, "color": "#F08A24", "strokeWidth": 0, "opacity": 1}},
{"data": {"values": [{"t":250,"v":394.7}]}, "mark": {"type": "point", "shape": "M-1,-0.55L1,-0.55L0,0.55Z", "size": 420, "filled": true, "fill": "#ffffff", "stroke": "#B3B35C", "strokeWidth": 2, "opacity": 1}},
{"data": {"values": [{"t":-3.3,"v":0}]}, "mark": {"type": "point", "shape": "M-1,-0.75L0.2,-0.75L1,0L0.2,0.75L-1,0.75Z", "size": 256, "filled": true, "color": "#8B4513", "strokeWidth": 0, "opacity": 1}},
{"data": {"values": [{"t":498.3,"v":-13.6}]}, "mark": {"type": "point", "shape": "M-0.6,0L0.6,-1L0.6,1Z", "size": 289, "filled": true, "color": "#1FA51F", "strokeWidth": 0, "opacity": 1}},
{"data": {"values": [{"t":-16.7,"v":-340.8,"s":"Phase"},{"t":-16.7,"v":-133.7,"s":"voltage (100V/div)"}]}, "mark": {"type": "text", "font": "Liberation Serif", "fontSize": 64, "angle": 270, "align": "left", "baseline": "middle", "color": "#000000"}, "encoding": {"text": {"field": "s"}}},
{"data": {"values": [{"t":-16.7,"v":-180.3,"s":"u"}]}, "mark": {"type": "text", "font": "Liberation Serif", "fontSize": 64, "fontStyle": "italic", "angle": 270, "align": "left", "baseline": "middle", "color": "#000000"}, "encoding": {"text": {"field": "s"}}},
{"data": {"values": [{"t":253.5,"v":-447.6,"s":"Time(50ms/div)"}]}, "mark": {"type": "text", "font": "Liberation Serif", "fontSize": 62, "align": "center", "baseline": "alphabetic", "color": "#000000"}, "encoding": {"text": {"field": "s"}}},
{"data": {"values": [{"t":234.7,"v":-632,"s":"(a)"}]}, "mark": {"type": "text", "font": "Liberation Serif", "fontSize": 70, "fontWeight": "bold", "align": "center", "baseline": "alphabetic", "color": "#000000"}, "encoding": {"text": {"field": "s"}}}
]
},
{
"width": 1593, "height": 1220,
"encoding": {
"x": {"field": "t", "type": "quantitative", "scale": {"domain": [-53.25, 527.7], "nice": false, "zero": false}, "axis": null},
"y": {"field": "v", "type": "quantitative", "scale": {"domain": [-781.7, 494.1], "nice": false, "zero": false}, "axis": null}
},
"layer": [
{"data": {"values": [{"t":-6.2,"t2":502.6,"v":409.4}]}, "mark": {"type": "rule", "stroke": "#d9d9d9", "strokeWidth": 4}, "encoding": {"x2": {"field": "t2"}}},
{"data": {"values": [{"t":0,"t2":500,"v":-400,"v2":400}]}, "mark": {"type": "rect", "fill": "transparent", "stroke": "#e6e6e6", "strokeWidth": 3}, "encoding": {"x2": {"field": "t2"}, "y2": {"field": "v2"}}},
{"data": {"values": [{"t":0,"t2":500,"v":300},{"t":0,"t2":500,"v":200},{"t":0,"t2":500,"v":100},{"t":0,"t2":500,"v":-100},{"t":0,"t2":500,"v":-200},{"t":0,"t2":500,"v":-300}]}, "mark": {"type": "rule", "stroke": "#cfcfcf", "strokeWidth": 2.5}, "encoding": {"x2": {"field": "t2"}}},
{"data": {"values": [{"t":50,"v":-400,"v2":400},{"t":100,"v":-400,"v2":400},{"t":150,"v":-400,"v2":400},{"t":200,"v":-400,"v2":400},{"t":300,"v":-400,"v2":400},{"t":350,"v":-400,"v2":400},{"t":400,"v":-400,"v2":400},{"t":450,"v":-400,"v2":400}]}, "mark": {"type": "rule", "stroke": "#b8b8b8", "strokeWidth": 1.3, "strokeDash": [2, 2]}, "encoding": {"y2": {"field": "v2"}}},
{"data": {"values": [{"t":0,"t2":500,"v":250},{"t":0,"t2":500,"v":-250}]}, "mark": {"type": "rule", "stroke": "#a9a9a9", "strokeWidth": 4, "strokeDash": [2, 25.42], "strokeDashOffset": 1}, "encoding": {"x2": {"field": "t2"}}},
{"data": {"values": [{"t":0,"t2":500,"v":0}]}, "mark": {"type": "rule", "stroke": "#999999", "strokeWidth": 3}, "encoding": {"x2": {"field": "t2"}}},
{"data": {"values": [{"t":0,"t2":500,"v":0}]}, "mark": {"type": "rule", "stroke": "#8e8e8e", "strokeWidth": 9, "strokeDash": [2, 25.42], "strokeDashOffset": 1}, "encoding": {"x2": {"field": "t2"}}},
{"data": {"values": [{"t":250,"v":-400,"v2":400}]}, "mark": {"type": "rule", "stroke": "#8c8c8c", "strokeWidth": 2.5}, "encoding": {"y2": {"field": "v2"}}},
{"data": {"values": [{"t":250,"v":-400,"v2":400}]}, "mark": {"type": "rule", "stroke": "#8c8c8c", "strokeWidth": 8, "strokeDash": [2, 17.125], "strokeDashOffset": 1}, "encoding": {"y2": {"field": "v2"}}},
{"data": {"name": "wb"}, "mark": {"type": "area", "fill": "#EE8012", "stroke": "#F0913A", "strokeWidth": 2}, "encoding": {"y2": {"field": "v2"}}},
{"data": {"values": [{"t":200,"v":394.2}]}, "mark": {"type": "point", "shape": "M-1,-0.55L1,-0.55L0,0.55Z", "size": 400, "filled": true, "color": "#F08A24", "strokeWidth": 0, "opacity": 1}},
{"data": {"values": [{"t":250,"v":394.2}]}, "mark": {"type": "point", "shape": "M-1,-0.55L1,-0.55L0,0.55Z", "size": 420, "filled": true, "fill": "#ffffff", "stroke": "#B3B35C", "strokeWidth": 2, "opacity": 1}},
{"data": {"values": [{"t":-3.1,"v":0}]}, "mark": {"type": "point", "shape": "M-1,-0.75L0.2,-0.75L1,0L0.2,0.75L-1,0.75Z", "size": 256, "filled": true, "color": "#8B4513", "strokeWidth": 0, "opacity": 1}},
{"data": {"values": [{"t":498.2,"v":-13.6}]}, "mark": {"type": "point", "shape": "M-0.6,0L0.6,-1L0.6,1Z", "size": 289, "filled": true, "color": "#1FA51F", "strokeWidth": 0, "opacity": 1}},
{"data": {"values": [{"t":-16.6,"v":12,"s":"Line voltage (100V/div)"}]}, "mark": {"type": "text", "font": "Liberation Serif", "fontSize": 60, "angle": 270, "align": "center", "baseline": "middle", "color": "#000000"}, "encoding": {"text": {"field": "s"}}},
{"data": {"values": [{"t":255.3,"v":-446,"s":"Time(50ms/div)"}]}, "mark": {"type": "text", "font": "Liberation Serif", "fontSize": 62, "align": "center", "baseline": "alphabetic", "color": "#000000"}, "encoding": {"text": {"field": "s"}}},
{"data": {"values": [{"t":235.2,"v":-748.2,"s":"(b)"}]}, "mark": {"type": "text", "font": "Liberation Serif", "fontSize": 70, "fontWeight": "bold", "align": "center", "baseline": "alphabetic", "color": "#000000"}, "encoding": {"text": {"field": "s"}}}
]
},
{
"width": 1593, "height": 1226,
"encoding": {
"x": {"field": "t", "type": "quantitative", "scale": {"domain": [-35.45, 507.5], "nice": false, "zero": false}, "axis": null},
"y": {"field": "v", "type": "quantitative", "scale": {"domain": [-12.354, 9.084], "nice": false, "zero": false}, "axis": null}
},
"layer": [
{"data": {"values": [{"t":0,"t2":500,"v":-8,"v2":8}]}, "mark": {"type": "rect", "fill": "transparent", "stroke": "#dedede", "strokeWidth": 2.5}, "encoding": {"x2": {"field": "t2"}, "y2": {"field": "v2"}}},
{"data": {"values": [{"t":0,"t2":500,"v":6},{"t":0,"t2":500,"v":4},{"t":0,"t2":500,"v":2},{"t":0,"t2":500,"v":-2},{"t":0,"t2":500,"v":-4},{"t":0,"t2":500,"v":-6}]}, "mark": {"type": "rule", "stroke": "#8e8e8e", "strokeWidth": 1.6, "strokeDash": [2, 2]}, "encoding": {"x2": {"field": "t2"}}},
{"data": {"values": [{"t":50,"v":-8,"v2":8},{"t":100,"v":-8,"v2":8},{"t":150,"v":-8,"v2":8},{"t":200,"v":-8,"v2":8},{"t":300,"v":-8,"v2":8},{"t":350,"v":-8,"v2":8},{"t":400,"v":-8,"v2":8},{"t":450,"v":-8,"v2":8}]}, "mark": {"type": "rule", "stroke": "#8e8e8e", "strokeWidth": 1.6, "strokeDash": [2, 2]}, "encoding": {"y2": {"field": "v2"}}},
{"data": {"values": [{"t":0,"t2":500,"v":5},{"t":0,"t2":500,"v":-5}]}, "mark": {"type": "rule", "stroke": "#9a9a9a", "strokeWidth": 4, "strokeDash": [2, 27.34], "strokeDashOffset": 1}, "encoding": {"x2": {"field": "t2"}}},
{"data": {"values": [{"t":0,"t2":500,"v":0}]}, "mark": {"type": "rule", "stroke": "#8a8a8a", "strokeWidth": 2.5}, "encoding": {"x2": {"field": "t2"}}},
{"data": {"values": [{"t":0,"t2":500,"v":0}]}, "mark": {"type": "rule", "stroke": "#888888", "strokeWidth": 9, "strokeDash": [2, 27.34], "strokeDashOffset": 1}, "encoding": {"x2": {"field": "t2"}}},
{"data": {"values": [{"t":250,"v":-8,"v2":8}]}, "mark": {"type": "rule", "stroke": "#888888", "strokeWidth": 2.2}, "encoding": {"y2": {"field": "v2"}}},
{"data": {"values": [{"t":250,"v":-8,"v2":8}]}, "mark": {"type": "rule", "stroke": "#888888", "strokeWidth": 8, "strokeDash": [2, 20.88], "strokeDashOffset": 1}, "encoding": {"y2": {"field": "v2"}}},
{"data": {"name": "wc"}, "mark": {"type": "area", "fill": "#1AE3EC", "stroke": "#2FE6EE", "strokeWidth": 1.1}, "encoding": {"y2": {"field": "v2"}}},
{"data": {"values": [{"t":222.6,"t2":281.5,"v":-7.84,"v2":-7.2}]}, "mark": {"type": "rect", "fill": "#e3e3e3", "cornerRadius": 5}, "encoding": {"x2": {"field": "t2"}, "y2": {"field": "v2"}}},
{"data": {"values": [{"t":200,"v":7.88}]}, "mark": {"type": "point", "shape": "M-1,-0.55L1,-0.55L0,0.55Z", "size": 400, "filled": true, "color": "#F08A24", "strokeWidth": 0, "opacity": 1}},
{"data": {"values": [{"t":250,"v":7.88}]}, "mark": {"type": "point", "shape": "M-1,-0.55L1,-0.55L0,0.55Z", "size": 420, "filled": true, "fill": "#ffffff", "stroke": "#B3B35C", "strokeWidth": 2, "opacity": 1}},
{"data": {"values": [{"t":-3.2,"v":0}]}, "mark": {"type": "point", "shape": "M-1,-0.75L0.2,-0.75L1,0L0.2,0.75L-1,0.75Z", "size": 256, "filled": true, "color": "#27B7BA", "strokeWidth": 0, "opacity": 1}},
{"data": {"values": [{"t":498.1,"v":-0.24}]}, "mark": {"type": "point", "shape": "M-0.6,0L0.6,-1L0.6,1Z", "size": 289, "filled": true, "color": "#1FA51F", "strokeWidth": 0, "opacity": 1}},
{"data": {"values": [{"t":-16.7,"v":-6.255,"s":"Current of phase"},{"t":-16.7,"v":2.859,"s":"(2A/div)"}]}, "mark": {"type": "text", "font": "Liberation Serif", "fontSize": 68, "angle": 270, "align": "left", "baseline": "middle", "color": "#000000"}, "encoding": {"text": {"field": "s"}}},
{"data": {"values": [{"t":-16.7,"v":1.967,"s":"u"}]}, "mark": {"type": "text", "font": "Liberation Serif", "fontSize": 68, "fontStyle": "italic", "angle": 270, "align": "left", "baseline": "middle", "color": "#000000"}, "encoding": {"text": {"field": "s"}}},
{"data": {"values": [{"t":252.9,"v":-8.66,"s":"Time(50ms/div)"}]}, "mark": {"type": "text", "font": "Liberation Serif", "fontSize": 64, "align": "center", "baseline": "alphabetic", "color": "#000000"}, "encoding": {"text": {"field": "s"}}},
{"data": {"values": [{"t":233.8,"v":-11.64,"s":"(c)"}]}, "mark": {"type": "text", "font": "Liberation Serif", "fontSize": 70, "fontWeight": "bold", "align": "center", "baseline": "alphabetic", "color": "#000000"}, "encoding": {"text": {"field": "s"}}}
]
}
]
}
